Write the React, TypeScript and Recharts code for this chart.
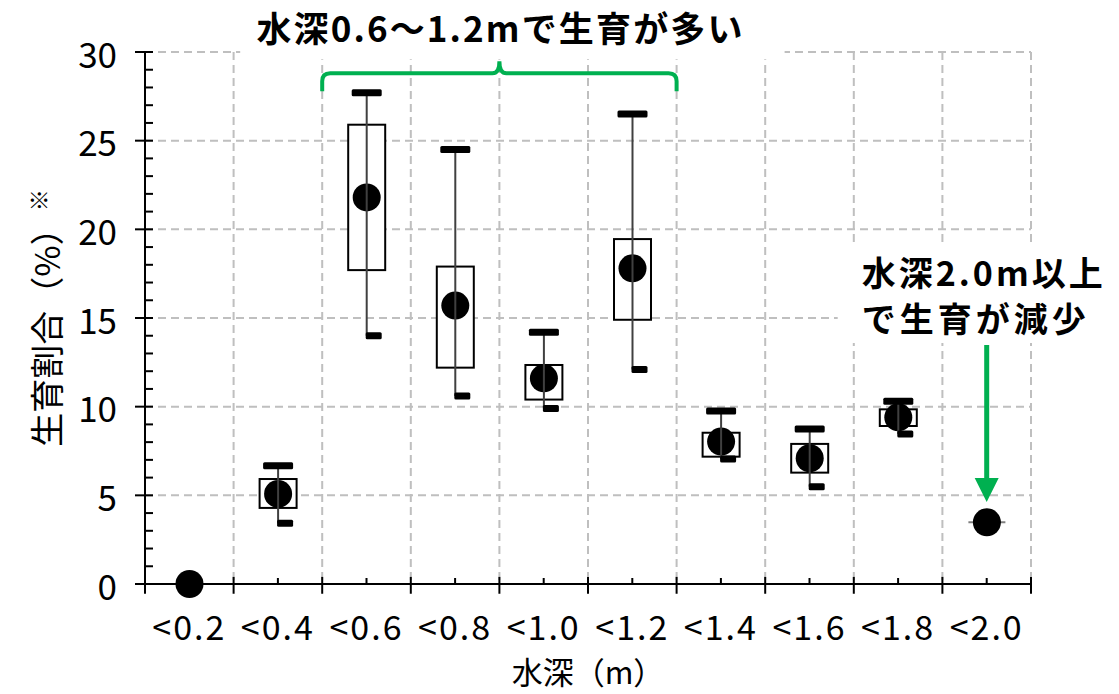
import React from 'react';
import { ComposedChart, Bar, XAxis, YAxis, CartesianGrid, ReferenceLine, ReferenceDot, Label } from 'recharts';

if (typeof document !== 'undefined') {
  document.body.style.margin = '0';
}

const FONT = "'Noto Sans CJK JP', 'Noto Sans', sans-serif";
const GREEN = '#00b050';

const categories = ['<0.2', '<0.4', '<0.6', '<0.8', '<1.0', '<1.2', '<1.4', '<1.6', '<1.8', '<2.0'];
const minValues = [0, 3.42, 14.0, 10.6, 9.9, 12.1, 7.05, 5.49, 8.46, 3.48];
const q1Values = [0, 4.29, 17.7, 12.2, 10.4, 14.9, 7.18, 6.28, 8.91, 3.48];
const meanValues = [0, 5.08, 21.8, 15.7, 11.6, 17.8, 8.03, 7.09, 9.4, 3.48];
const q3Values = [0, 5.92, 25.9, 17.9, 12.35, 19.45, 8.53, 7.9, 9.85, 3.48];
const maxValues = [0, 6.67, 27.7, 24.5, 14.2, 26.5, 9.76, 8.74, 10.3, 3.48];

const yTicks = [0, 1, 2, 3, 4, 5, 6, 7, 8, 9, 10, 11, 12, 13, 14, 15, 16, 17, 18, 19, 20, 21, 22, 23, 24, 25, 26, 27, 28, 29, 30];
const yGridValues = [5, 10, 15, 20, 25, 30];
const xGridValues = [1, 2, 3, 4, 5, 6, 7, 8, 9, 10];
const xBoundaries = [0, 1, 2, 3, 4, 5, 6, 7, 8, 9, 10];

const topNote = '水深0.6～1.2mで生育が多い';
const rightNote1 = '水深2.0m以上';
const rightNote2 = 'で生育が減少';
const xTitle = '水深（m）';
const yTitle = '生育割合（%）';

const data = categories.map((cat, i) => ({
  cat,
  pos: i + 0.5,
  min: minValues[i],
  q1: q1Values[i],
  mean: meanValues[i],
  q3: q3Values[i],
  max: maxValues[i],
  range: [minValues[i], maxValues[i]],
}));

function BoxShape(props: any) {
  const { x, y, width, height, payload } = props;
  if (x == null || y == null || !payload) return null;
  const top = Math.min(y, y + (height || 0));
  const bottom = Math.max(y, y + (height || 0));
  const { min, max, q1, q3, mean } = payload;
  const span = max - min;
  const cx = x + width / 2;
  if (span === 0) {
    return (
      <g>
        <line x1={x} x2={x + width} y1={top} y2={top} stroke="#7f7f7f" strokeWidth={2} />
        <circle cx={cx} cy={top} r={14} fill="#000" />
      </g>
    );
  }
  const py = (v: number) => bottom - ((bottom - top) * (v - min)) / span;
  return (
    <g>
      <rect x={x} y={py(q3)} width={width} height={py(q1) - py(q3)} fill="#fff" stroke="#000" strokeWidth={2} />
      <circle cx={cx} cy={py(mean)} r={14} fill="#000" />
      <line x1={cx} x2={cx} y1={py(max)} y2={py(min)} stroke="#404040" strokeWidth={2} />
      <rect x={cx - 15} y={py(max) - 3.5} width={30} height={7} rx={1.5} fill="#000" />
      <rect x={cx - 1} y={py(min) - 3.5} width={16} height={7} rx={1.5} fill="#000" />
    </g>
  );
}

function YTick(props: any) {
  const { x, y, payload } = props;
  const v = payload.value;
  const major = v % 5 === 0;
  return (
    <g>
      <line x1={major ? x - 10 : x} x2={x + 8} y1={y} y2={y} stroke="#000" strokeWidth={2} />
      {major && (
        <text x={x - 28} y={y} textAnchor="end" dominantBaseline="central" fontSize={35} fontFamily={FONT} fill="#000">
          {v}
        </text>
      )}
    </g>
  );
}

function XTick(props: any) {
  const { x, y, payload } = props;
  return (
    <g>
      <line x1={x} x2={x} y1={y - 6} y2={y} stroke="#000" strokeWidth={2} />
      <text x={x} y={y + 41} textAnchor="middle" dominantBaseline="central" fontSize={34} fontFamily={FONT} letterSpacing={2} fill="#000">
        {payload.value}
      </text>
    </g>
  );
}

function YTitle(props: any) {
  const vb = props.viewBox || { x: 0, y: 0, width: 0, height: 0 };
  const x = vb.x + 45;
  const y = vb.y + vb.height / 2;
  return (
    <text x={x} y={y} transform={`rotate(-90, ${x}, ${y})`} textAnchor="middle" dominantBaseline="central" fontSize={34} fontFamily={FONT} fill="#000">
      {yTitle}
      <tspan fontSize={22} dy={-8}>※</tspan>
    </text>
  );
}

function XTitle(props: any) {
  const vb = props.viewBox || { x: 0, y: 0, width: 0, height: 0 };
  return (
    <text x={vb.x + vb.width / 2} y={vb.y + 100} textAnchor="middle" fontSize={31} fontFamily={FONT} fill="#000">
      {xTitle}
    </text>
  );
}

function Brace(props: any) {
  const { x1, y1, x2 } = props;
  if (x1 == null) return null;
  const mx = (x1 + x2) / 2;
  const r = 8;
  const d = 18;
  const c = 12;
  const path = `M${x1},${y1 + d} L${x1},${y1 + r} Q${x1},${y1} ${x1 + r},${y1} L${mx - 7},${y1} Q${mx},${y1} ${mx},${y1 - c} Q${mx},${y1} ${mx + 7},${y1} L${x2 - r},${y1} Q${x2},${y1} ${x2},${y1 + r} L${x2},${y1 + d}`;
  return (
    <g>
      <rect x={x1 - 82} y={y1 - 80} width={x2 - x1 + 190} height={66} fill="#fff" />
      <path d={path} fill="none" stroke={GREEN} strokeWidth={4} />
      <text x={mx} y={y1 - 31} textAnchor="middle" fontSize={35} fontWeight={700} fontFamily={FONT} fill="#000" textLength={486} lengthAdjust="spacing">
        {topNote}
      </text>
    </g>
  );
}

function RightNote(props: any) {
  const { cx, cy } = props;
  if (cx == null) return null;
  return (
    <g>
      <rect x={cx - 149} y={cy - 72} width={300} height={97} fill="#fff" />
      <text x={cx - 125} y={cy - 32} fontSize={34} fontWeight={700} fontFamily={FONT} fill="#000" textLength={241} lengthAdjust="spacing">
        {rightNote1}
      </text>
      <text x={cx - 125} y={cy + 14} fontSize={34} fontWeight={700} fontFamily={FONT} fill="#000" textLength={224} lengthAdjust="spacing">
        {rightNote2}
      </text>
    </g>
  );
}

function Arrow(props: any) {
  const { x1, y1, y2 } = props;
  if (x1 == null) return null;
  const head = 24;
  return (
    <g>
      <line x1={x1} x2={x1} y1={y1} y2={y2 - head + 1} stroke={GREEN} strokeWidth={5} />
      <polygon points={`${x1 - 12},${y2 - head} ${x1 + 12},${y2 - head} ${x1},${y2}`} fill={GREEN} />
    </g>
  );
}

export default function App() {
  return (
    <div style={{ width: 1119, height: 694 }}>
      <ComposedChart width={1119} height={694} data={data} margin={{ top: 52, right: 88, bottom: 50, left: 0 }}>
        <CartesianGrid
          xAxisId="b"
          stroke="#bfbfbf"
          strokeWidth={2}
          strokeDasharray="8 5"
          horizontalValues={yGridValues}
          verticalValues={xGridValues}
        />
        <XAxis
          dataKey="cat"
          type="category"
          height={60}
          interval={0}
          tickSize={0}
          tickMargin={0}
          axisLine={{ stroke: '#000', strokeWidth: 2 }}
          tickLine={false}
          tick={<XTick />}
        >
          <Label content={XTitle} />
        </XAxis>
        <XAxis xAxisId="b" dataKey="pos" type="number" domain={[0, 10]} hide />
        <YAxis
          type="number"
          domain={[0, 30]}
          ticks={yTicks}
          interval={0}
          width={145}
          tickSize={0}
          tickMargin={0}
          axisLine={{ stroke: '#000', strokeWidth: 2 }}
          tickLine={false}
          tick={<YTick />}
        >
          <Label content={YTitle} />
        </YAxis>
        {xBoundaries.map((k) => (
          <ReferenceLine
            key={`bt${k}`}
            xAxisId="b"
            segment={[{ x: k, y: 0.4 }, { x: k, y: -0.55 }]}
            stroke="#000"
            strokeWidth={2}
            ifOverflow="visible"
          />
        ))}
        <Bar dataKey="range" barSize={37} shape={BoxShape} isAnimationActive={false} />
        <ReferenceLine xAxisId="b" segment={[{ x: 2, y: 28.8 }, { x: 6, y: 28.8 }]} shape={Brace} ifOverflow="visible" />
        <ReferenceDot xAxisId="b" x={9.5} y={15} shape={RightNote} ifOverflow="visible" />
        <ReferenceLine xAxisId="b" segment={[{ x: 9.5, y: 13.48 }, { x: 9.5, y: 4.62 }]} shape={Arrow} ifOverflow="visible" />
      </ComposedChart>
    </div>
  );
}
